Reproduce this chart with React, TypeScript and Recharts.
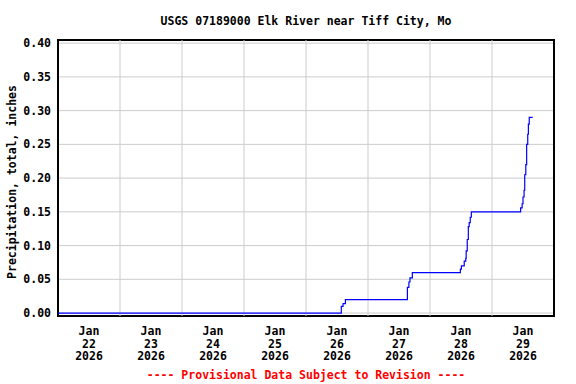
import React from "react";
import { LineChart, Line, XAxis, YAxis, CartesianGrid, ReferenceLine, ReferenceArea } from "recharts";

const title = "USGS 07189000 Elk River near Tiff City, Mo";
const yLabel = "Precipitation, total, inches";
const footer = "---- Provisional Data Subject to Revision ----";

const times = [
  "2026-01-22T00:00",
  "2026-01-26T13:40", "2026-01-26T14:20", "2026-01-26T15:15",
  "2026-01-27T15:15", "2026-01-27T15:50", "2026-01-27T16:15", "2026-01-27T17:10",
  "2026-01-28T11:45", "2026-01-28T12:10", "2026-01-28T13:15", "2026-01-28T13:50",
  "2026-01-28T14:00", "2026-01-28T14:25", "2026-01-28T14:50", "2026-01-28T15:10",
  "2026-01-28T15:35", "2026-01-28T16:00",
  "2026-01-29T11:05", "2026-01-29T11:40", "2026-01-29T12:00", "2026-01-29T12:25",
  "2026-01-29T12:40", "2026-01-29T13:05", "2026-01-29T13:25", "2026-01-29T13:50",
  "2026-01-29T14:05", "2026-01-29T14:25", "2026-01-29T15:45",
];
const values = [
  0.0,
  0.01, 0.014, 0.02,
  0.038, 0.046, 0.052, 0.06,
  0.065, 0.07, 0.077, 0.081,
  0.092, 0.109, 0.128, 0.134,
  0.142, 0.15,
  0.156, 0.162, 0.172, 0.182,
  0.205, 0.22, 0.25, 0.265,
  0.28, 0.29, 0.29,
];

const tickDays = ["2026-01-22", "2026-01-23", "2026-01-24", "2026-01-25", "2026-01-26", "2026-01-27", "2026-01-28", "2026-01-29"];
const gridDays = ["2026-01-23", "2026-01-24", "2026-01-25", "2026-01-26", "2026-01-27", "2026-01-28", "2026-01-29"];
const yTicks = [0, 0.05, 0.1, 0.15, 0.2, 0.25, 0.3, 0.35, 0.4];
const xStart = "2026-01-22T00:00";
const xEnd = "2026-01-30T00:00";
const yMin = -0.0044;
const yMax = 0.4047;

const ts = (s: string) => Date.parse(s + ":00Z");
const data = times.map((t, i) => ({ t: ts(t), v: values[i] }));
const xTicks = tickDays.map((d) => ts(d + "T12:00"));
const gridX = gridDays.map((d) => ts(d + "T00:00"));
const MONTHS = ["Jan", "Feb", "Mar", "Apr", "May", "Jun", "Jul", "Aug", "Sep", "Oct", "Nov", "Dec"];

const FONT = "'DejaVu Sans Mono', monospace";

const XTick = (props: any) => {
  const { x, y, payload } = props;
  const d = new Date(payload.value);
  const lines = [MONTHS[d.getUTCMonth()], String(d.getUTCDate()), String(d.getUTCFullYear())];
  return (
    <text x={x} y={y} textAnchor="middle" fontFamily={FONT} fontWeight="bold" fontSize={11.5} fill="#000">
      {lines.map((l, i) => (
        <tspan key={i} x={x} y={y + 19 + i * 12.5}>{l}</tspan>
      ))}
    </text>
  );
};

export default function App() {
  return (
    <div style={{ position: "absolute", left: 0, top: 0, width: 576, height: 384, background: "#fff" }}>
      <LineChart width={576} height={384} data={data} margin={{ top: 40, right: 22, bottom: 0, left: 0 }}>
        <CartesianGrid vertical={false} stroke="#cccccc" strokeWidth={1} />
        {gridX.map((g) => (
          <ReferenceLine key={g} x={g} stroke="#cccccc" strokeWidth={1} />
        ))}
        <XAxis
          dataKey="t"
          type="number"
          domain={[ts(xStart), ts(xEnd)]}
          ticks={xTicks}
          interval={0}
          tick={<XTick />}
          tickLine={false}
          tickSize={0}
          tickMargin={0}
          axisLine={false}
          height={68}
          allowDataOverflow
        />
        <YAxis
          type="number"
          domain={[yMin, yMax]}
          ticks={yTicks}
          interval={0}
          tickFormatter={(v: number) => v.toFixed(2)}
          tick={{ fontFamily: FONT, fontWeight: "bold", fontSize: 11.5, fill: "#000" }}
          tickLine={false}
          tickSize={0}
          tickMargin={7}
          axisLine={false}
          width={58}
          allowDataOverflow
        />
        <Line
          type="stepAfter"
          dataKey="v"
          stroke="#0000ff"
          strokeWidth={1.2}
          dot={false}
          isAnimationActive={false}
        />
        <ReferenceArea x1={ts(xStart)} x2={ts(xEnd)} y1={yMin} y2={yMax} fill="none" fillOpacity={0} stroke="#000" strokeWidth={2} />
      </LineChart>
      <svg width={576} height={384} style={{ position: "absolute", left: 0, top: 0, pointerEvents: "none" }}>
        <text x={306} y={25} textAnchor="middle" fontFamily={FONT} fontWeight="bold" fontSize={11.5} fill="#000">{title}</text>
        <text x={16} y={182} transform="rotate(-90 16 182)" textAnchor="middle" fontFamily={FONT} fontWeight="bold" fontSize={11.5} fill="#000">{yLabel}</text>
        <text x={306} y={379} textAnchor="middle" fontFamily={FONT} fontWeight="bold" fontSize={11.5} fill="#ff0000">{footer}</text>
      </svg>
    </div>
  );
}
